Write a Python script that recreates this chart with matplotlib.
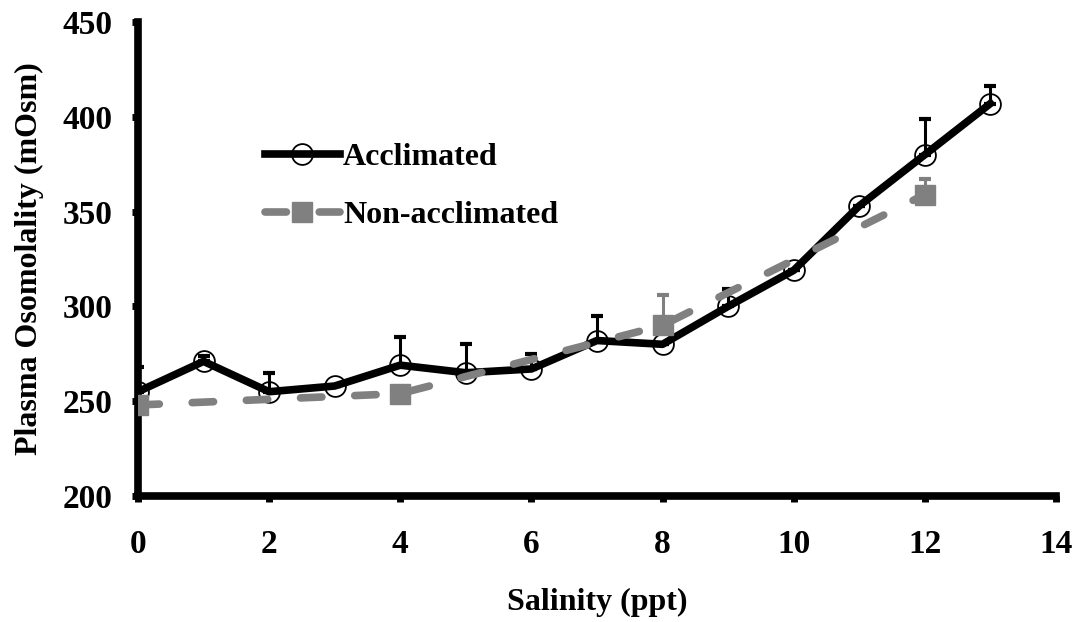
import matplotlib
matplotlib.use("Agg")
import matplotlib.pyplot as plt
import numpy as np

# Acclimated (stepwise transfer)
acc_sal = [0, 1, 2, 3, 4, 5, 6, 7, 8, 9, 10, 11, 12, 13]
acc_osm = [255, 271, 255, 258, 269, 265, 267, 282, 280, 300, 319, 353, 380, 407]
acc_err = [13, 3, 10, 0, 15, 15, 8, 13, 0, 9, 0, 0, 19, 9]

# Non-acclimated (direct transfer)
non_sal = [0, 4, 8, 12]
non_osm = [248, 254, 290, 359]
non_err = [0, 3, 16, 8]

xticks = [0, 2, 4, 6, 8, 10, 12, 14]
yticks = [200, 250, 300, 350, 400, 450]

plt.rcParams["font.family"] = ["Liberation Serif", "DejaVu Serif"]
plt.rcParams["font.weight"] = "bold"

fig = plt.figure(figsize=(10.83, 6.22), dpi=100)
ax = fig.add_axes([0.1274, 0.2026, 0.8476, 0.762])

gray = "#808080"

ax.errorbar(acc_sal, acc_osm, yerr=[np.zeros(len(acc_err)), acc_err],
            fmt="none", ecolor="black", elinewidth=2.2, capsize=4.5, capthick=3, zorder=3)
ax.plot(acc_sal, acc_osm, color="black", lw=5.5, marker="o", ms=15,
        mfc="none", mec="black", mew=1.3, label="Acclimated", zorder=4)

ax.errorbar(non_sal, non_osm, yerr=[np.zeros(len(non_err)), non_err],
            fmt="none", ecolor=gray, elinewidth=2.2, capsize=4.5, capthick=3, zorder=5)
ax.plot(non_sal, non_osm, color=gray, lw=5.5, ls=(0, (2.8, 4.3)), dash_capstyle="round",
        marker="s", ms=15, mfc=gray, mec=gray, label="Non-acclimated", zorder=6)

ax.set_xlim(0, 14)
ax.set_ylim(200, 450)
ax.set_xticks(xticks)
ax.set_yticks(yticks)

for side in ["top", "right"]:
    ax.spines[side].set_visible(False)
for side in ["left", "bottom"]:
    ax.spines[side].set_linewidth(5.5)

ax.tick_params(axis="both", direction="out", length=4, width=5, labelsize=24)
ax.tick_params(axis="x", pad=20)
ax.tick_params(axis="y", pad=14)
for lbl in ax.get_xticklabels() + ax.get_yticklabels():
    lbl.set_fontweight("bold")

ax.set_xlabel("Salinity (ppt)", fontsize=23, fontweight="bold", labelpad=20)
ax.set_ylabel("Plasma Osomolality (mOsm)", fontsize=23, fontweight="bold", labelpad=14)

leg = ax.legend(loc="upper left", bbox_to_anchor=(0.138, 0.745), frameon=False,
                handlelength=2.35, handletextpad=0.1, labelspacing=0.88,
                borderpad=0, borderaxespad=0,
                prop={"weight": "bold", "size": 23})

fig.savefig("out.png", dpi=100)
